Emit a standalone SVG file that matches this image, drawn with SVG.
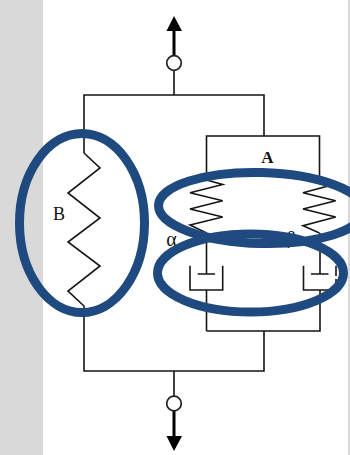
<svg xmlns="http://www.w3.org/2000/svg" width="350" height="455" viewBox="0 0 350 455">
<style>
.w{fill:none;stroke:#151515;stroke-width:1.6;stroke-linejoin:miter}
.t{fill:none;stroke:#000;stroke-width:3}
.n{fill:#fff;stroke:#222;stroke-width:1.7}
.h{fill:#000;stroke:none}
.o{fill:none;stroke:#1f4a80;stroke-width:9}
.l{font-family:"Liberation Serif",serif;fill:#111}
</style>
<rect width="350" height="455" fill="#fff"/>
<rect id="band-left" x="0" y="0" width="43" height="455" fill="#d9d9d9"/>
<rect id="band-right" x="348" y="0" width="2" height="455" fill="#d9d9d9"/>
<g id="connectors">
<path class="t" d="M174 31V56M174 411V436"/>
<path class="w" d="M174 70V95M84 153V95H264V136M206.500 180V136H319.500V180"/>
<path class="w" d="M84 153L100 168L68 193L100 218L68 242L100 266L68 291L84 306V371H264V331M174 371V396"/>
<path class="w" d="M206.500 331H320V290M206.500 331V290"/>
<path class="w" d="M206.500 233V274M320 233V274"/>
</g>
<g id="arrow-top"><polygon class="h" points="174,16 166.500,31 182,31"/></g>
<g id="arrow-bottom"><polygon class="h" points="174,451 166.500,436 182,436"/></g>
<g id="terminal-top"><circle class="n" cx="174" cy="63" r="7.300"/></g>
<g id="terminal-bottom"><circle class="n" cx="174" cy="403.500" r="7.300"/></g>
<g id="spring-b"><text class="l" x="59" y="220" font-size="18" text-anchor="middle">B</text></g>
<g id="spring-a1"><path class="w" d="M206.500 180L222.700 184.500L190 192.700L222.700 200.700L190 209L222.700 217L190 225L206.500 233"/></g>
<g id="spring-a2"><path class="w" d="M319.500 180L331.700 185L303 192.700L335.700 200.700L303 209L335.700 217L303 225.700L319.500 233"/></g>
<g id="dashpot-a1"><path class="w" d="M190 265.700V290H222.700V265.700M197.700 274H215"/></g>
<g id="dashpot-a2"><path class="w" d="M303.500 265.700V290H336M336 265.700V276M336 279V290M311 274H328.500"/></g>
<g id="labels">
<text class="l" x="267.500" y="163" font-size="17" font-weight="bold" text-anchor="middle">A</text>
<text class="l" x="171.500" y="246" font-size="20" text-anchor="middle">α</text>
<text class="l" x="291" y="244" font-size="18" text-anchor="middle">β</text>
</g>
<g id="ellipses">
<ellipse class="o" cx="82" cy="223" rx="62.500" ry="89.500"/>
<ellipse class="o" cx="261" cy="208" rx="102.500" ry="35.500" transform="rotate(1.500 261 208)"/>
<ellipse class="o" cx="250.500" cy="273" rx="93" ry="39"/>
</g>
</svg>
